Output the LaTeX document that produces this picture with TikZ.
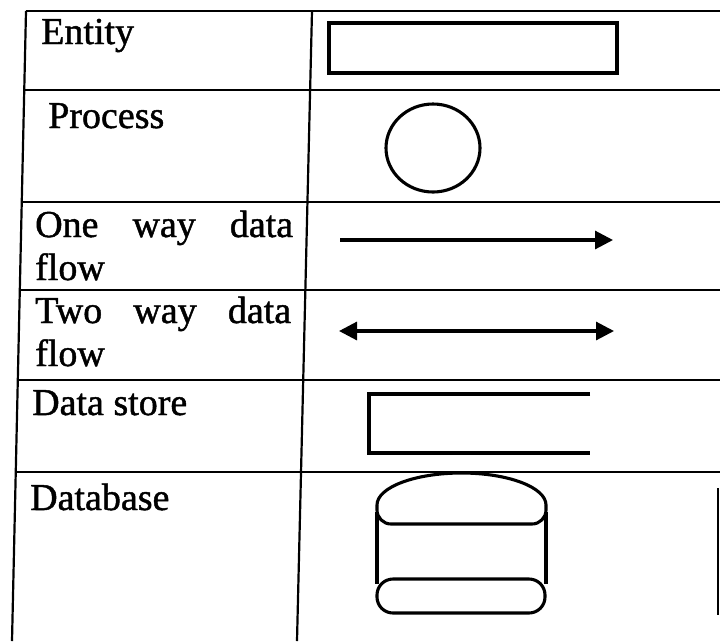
\documentclass[tikz,border=0pt]{standalone}
\usepackage{fontspec}
\setmainfont{Liberation Serif}[FakeBold=1.2]
\usepackage{tikz}
\usetikzlibrary{arrows.meta, positioning}

\tikzset{
  grid/.style={line width=2.2pt},
  symb/.style={line width=3.1pt},
  flow/.style={symb, -{Triangle[length=18pt,width=18pt]}},
  twoflow/.style={symb, {Triangle[length=18pt,width=18pt]}-{Triangle[length=18pt,width=18pt]}},
  lbl/.style={anchor=base west, inner sep=0pt, font=\fontsize{38}{43}\selectfont}
}

\begin{document}
\begin{tikzpicture}[x=1pt, y=-1pt]
\useasboundingbox (0,0) rectangle (720,641);

\draw [grid] (26,11) -- (12,641);
\draw [grid] (312,11) -- (297,641);
\draw [grid] (718,488) -- (718,615);
\foreach \yy/\xl in {11/26, 90/24, 202/22, 290/20, 380/18, 472/15}
  \draw [grid] (\xl,\yy) -- (720,\yy);

\node [lbl] (entityLbl) at (41,44) {Entity};
\node [lbl] (processLbl) at (48,128) {Process};
\node [lbl, text width=258pt, align=left] (oneLbl) at (35,237) {\makebox[258pt]{One\hfill way\hfill data}\\flow};
\node [lbl, text width=256pt, align=left] (twoLbl) at (35,323) {\makebox[256pt]{Two\hfill way\hfill data}\\flow};
\node [lbl] (storeLbl) at (32,415) {Data store};
\node [lbl] (dbLbl) at (30,510) {Database};

\node [symb, draw, minimum width=288pt, minimum height=50pt, inner sep=0pt] (entity) at (473,48) {};
\draw [symb] (433,148) ellipse [x radius=47pt, y radius=44pt];

\coordinate (oneA) at (340,240);
\coordinate (oneB) at (613,240);
\draw [flow] (oneA) -- (oneB);

\coordinate (twoA) at (339,331);
\coordinate (twoB) at (614,331);
\draw [twoflow] (twoA) -- (twoB);

\draw [symb] (590,394) -- (369,394) -- (369,453) -- (590,453);

\draw [symb] (546,505) arc [start angle=0, end angle=180, x radius=84.5pt, y radius=32pt];
\draw [symb, rounded corners=14pt] (377,505) -- (377,524) -- (546,524) -- (546,505);
\draw [symb] (377,512) -- (377,584);
\draw [symb] (546,512) -- (546,584);
\draw [symb, rounded corners=16pt] (377,579) rectangle (545,613);
\end{tikzpicture}
\end{document}
